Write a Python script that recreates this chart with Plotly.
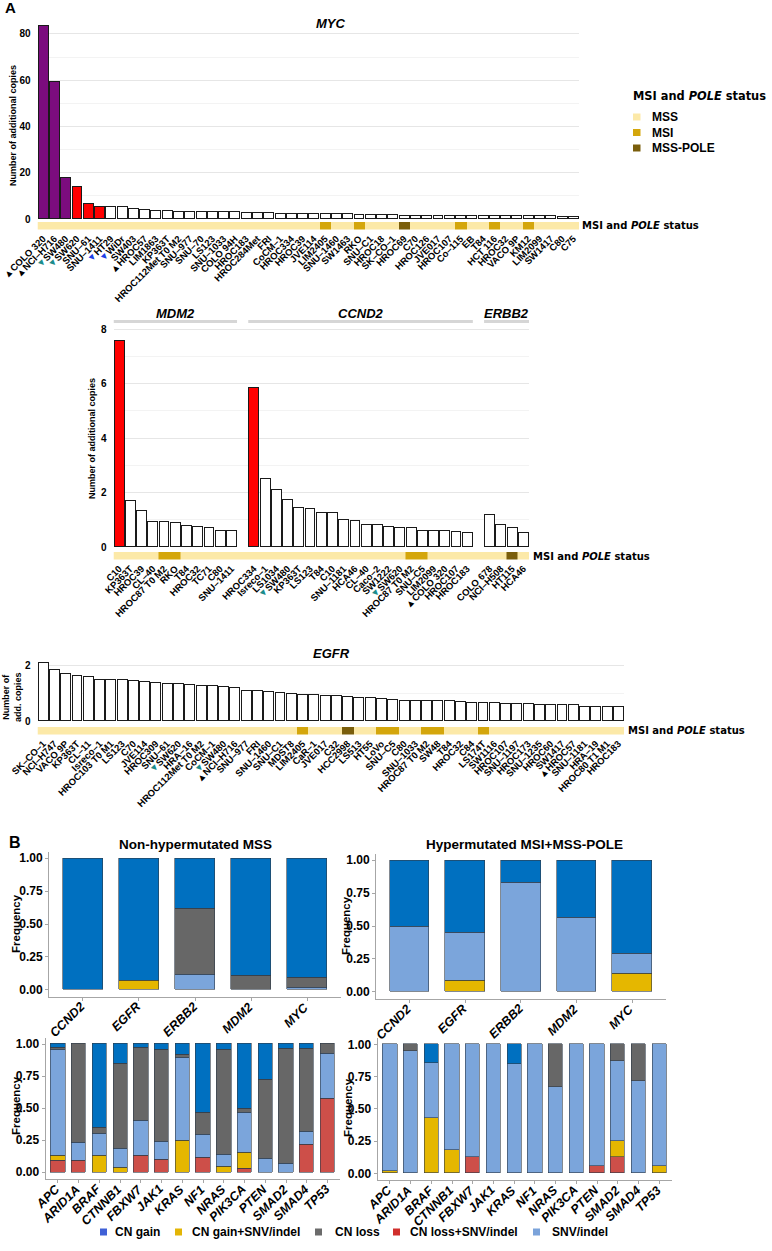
import plotly.graph_objects as go

W, H = 772, 1251

# ---------------- DATA ----------------
myc_lines = ["COLO 320", "NCI–H716", "SW480", "SW620", "SNU–61", "SNU–1411", "HT29", "WiDr", "SW403",
             "HROC57", "LIM1863", "KP363T", "HROC112Met T0 M2", "SNU–977", "SNU–70", "LS123", "SNU–1033",
             "COLO 94H", "HROC183", "HROC284Met", "FRI", "CoCM–1", "HROC334", "HROC39", "JVE114", "LIM2405",
             "SNU–1460", "SW1463", "RKO", "SNU–C1", "HROC18", "SK–CO–1", "HROC69", "C70", "HROC126", "JVE017",
             "HROC107", "Co–115", "EB", "T84", "HCT 116", "HROC32", "VACO 9P", "KM12", "LIM2099", "SW1417",
             "C80", "C75"]
myc_copies = [83.2, 59.4, 17.6, 14.0, 6.5, 5.2, 5.0, 5.0, 4.2, 3.9, 3.6, 3.6, 3.2, 3.2, 3.2, 3.0, 2.9,
              2.9, 2.7, 2.6, 2.45, 2.3, 2.3, 2.3, 2.15, 2.15, 2.0, 2.0, 1.87, 1.87, 1.6, 1.6, 1.5, 1.5, 1.45,
              1.45, 1.4, 1.4, 1.35, 1.35, 1.3, 1.3, 1.25, 1.2, 1.15, 1.1, 1.05, 1.0]
myc_level = ["high"] * 3 + ["mid"] * 3 + ["low"] * 42
myc_status = ["MSS"] * 25 + ["MSI", "MSS", "MSS", "MSI"] + ["MSS"] * 3 + ["POLE"] + ["MSS"] * 4 + \
             ["MSI", "MSS", "MSS", "MSI", "MSS", "MSS", "MSI"] + ["MSS"] * 4

mdm2_lines = ["C10", "KP363T", "HROC39", "CL–40", "HROC87 T0 M2", "RKO", "T84", "HROC32", "TC71", "C80",
              "SNU–1411"]
mdm2_copies = [7.56, 1.69, 1.34, 0.93, 0.93, 0.88, 0.77, 0.75, 0.71, 0.57, 0.57]
mdm2_level = ["mid"] + ["low"] * 10
mdm2_status = ["MSS"] * 4 + ["MSI", "MSI"] + ["MSS"] * 5

ccnd2_lines = ["HROC334", "Isreco–1", "LS1034", "SW480", "KP363T", "LS123", "T84", "C10", "SNU–1181",
               "HCA46", "CL–40", "Caco–2", "SW1222", "SW620", "HROC87 T0 M2", "SNU–C5", "LIM2099",
               "COLO 320", "HROC107", "HROC183"]
ccnd2_copies = [5.85, 2.51, 2.1, 1.74, 1.43, 1.41, 1.26, 1.26, 1.0, 0.95, 0.81, 0.81, 0.74, 0.69, 0.69,
                0.6, 0.6, 0.58, 0.55, 0.52]
ccnd2_level = ["mid"] + ["low"] * 19
ccnd2_status = ["MSS"] * 14 + ["MSI", "MSI"] + ["MSS"] * 4

erbb2_lines = ["COLO 678", "NCI–H508", "HT115", "HCA46"]
erbb2_copies = [1.19, 0.79, 0.71, 0.53]
erbb2_level = ["low"] * 4
erbb2_status = ["MSS", "MSS", "POLE", "MSS"]

egfr_lines = ["SK–CO–1", "NCI–H747", "VACO 9P", "KP363T", "CL–11", "Isreco–1", "HROC103 T0 M1", "LS123",
              "C70", "JVE114", "HROC309", "SNU–61", "SW620", "HRA–16", "HROC112Met T0 M2", "CoCM–1", "SW480",
              "NCI–H716", "SNU–977", "FRI", "SNU–1460", "SNU–C1", "MDST8", "LIM2405", "CaR–1", "JVE017",
              "C32", "HCC2998", "LS513", "HT55", "LoVo", "SNU–C5", "C80", "SNU–1033", "HROC87 T0 M2", "SW48",
              "T84", "HROC32", "C84", "LS174T", "SW1116", "HROC107", "SNU–1197", "HROC173", "SNU–1235",
              "HROC60", "SW1417", "HROC57", "SNU–1181", "HRA–19", "HROC80 T1 M1", "HROC183"]
egfr_copies = [2.1, 1.85, 1.72, 1.65, 1.6, 1.5, 1.5, 1.48, 1.45, 1.42, 1.38, 1.35, 1.33, 1.3, 1.28, 1.26,
               1.24, 1.2, 1.09, 1.08, 1.04, 1.0, 0.98, 0.94, 0.94, 0.92, 0.9, 0.88, 0.85, 0.84, 0.8, 0.77,
               0.74, 0.74, 0.74, 0.74, 0.73, 0.70, 0.67, 0.67, 0.67, 0.62, 0.62, 0.61, 0.58, 0.57, 0.57,
               0.57, 0.52, 0.52, 0.51, 0.50]
egfr_level = ["low"] * 52
egfr_status = ["MSS"] * 23 + ["MSI"] + ["MSS"] * 3 + ["POLE"] + ["MSS"] * 2 + ["MSI", "MSI"] + \
              ["MSS"] * 2 + ["MSI", "MSI"] + ["MSS"] * 3 + ["MSI"] + ["MSS"] * 12

# label markers (triangles) per cell line
tri_black = ["COLO 320", "NCI–H716", "HROC57"]
tri_teal = ["SW480", "SW620"]
tri_blue = ["HT29", "WiDr"]

amp_genes = ["CCND2", "EGFR", "ERBB2", "MDM2", "MYC"]
drv_genes = ["APC", "ARID1A", "BRAF", "CTNNB1", "FBXW7", "JAK1", "KRAS", "NF1", "NRAS", "PIK3CA", "PTEN",
             "SMAD2", "SMAD4", "TP53"]
categories = ["CN loss+SNV/indel", "CN gain+SNV/indel", "SNV/indel", "CN loss", "CN gain"]  # bottom -> top

mss_amp = {
    "CN loss+SNV/indel": [0, 0, 0, 0, 0],
    "CN gain+SNV/indel": [0, 0.07, 0, 0, 0],
    "SNV/indel": [0, 0, 0.12, 0, 0.02],
    "CN loss": [0, 0, 0.50, 0.11, 0.075],
    "CN gain": [1.0, 0.93, 0.38, 0.89, 0.905],
}
hyp_amp = {
    "CN loss+SNV/indel": [0, 0, 0, 0, 0],
    "CN gain+SNV/indel": [0, 0.09, 0, 0, 0.143],
    "SNV/indel": [0.50, 0.36, 0.83, 0.567, 0.145],
    "CN loss": [0, 0, 0, 0, 0],
    "CN gain": [0.50, 0.55, 0.17, 0.433, 0.712],
}
mss_drv = {
    "CN loss+SNV/indel": [0.091, 0.088, 0, 0, 0.132, 0.096, 0, 0.117, 0, 0.031, 0, 0, 0.218, 0.577],
    "CN gain+SNV/indel": [0.036, 0, 0.13, 0.039, 0, 0, 0.244, 0, 0.047, 0.125, 0, 0, 0, 0],
    "SNV/indel": [0.826, 0.146, 0.174, 0.145, 0.273, 0.146, 0.652, 0.179, 0.091, 0.312, 0.109, 0.07, 0.099, 0.35],
    "CN loss": [0.021, 0.766, 0.046, 0.665, 0.566, 0.711, 0.023, 0.172, 0.815, 0.031, 0.616, 0.896, 0.649, 0.073],
    "CN gain": [0.026, 0, 0.65, 0.151, 0.029, 0.047, 0.081, 0.532, 0.047, 0.501, 0.275, 0.034, 0.034, 0],
}
hyp_drv = {
    "CN loss+SNV/indel": [0, 0, 0, 0, 0.127, 0, 0, 0, 0, 0, 0.06, 0.127, 0, 0],
    "CN gain+SNV/indel": [0.016, 0, 0.429, 0.181, 0, 0, 0, 0, 0, 0, 0, 0.124, 0, 0.057],
    "SNV/indel": [0.984, 0.953, 0.429, 0.819, 0.873, 1.0, 0.848, 1.0, 0.667, 1.0, 0.94, 0.622, 0.713, 0.943],
    "CN loss": [0, 0.047, 0, 0, 0, 0, 0, 0, 0.333, 0, 0, 0.127, 0.287, 0],
    "CN gain": [0, 0, 0.142, 0, 0, 0, 0.152, 0, 0, 0, 0, 0, 0, 0],
}

# ---------------- STYLE ----------------
LEVEL_COL = {"high": "#7B0C7E", "mid": "#FF0000", "low": "#FFFFFF"}
STATUS_CODE = {"MSS": 0, "MSI": 1, "POLE": 2}
C_MSS, C_MSI, C_POLE = "#FCE9A8", "#D4A60C", "#7A5E0C"
STATUS_SCALE = [[0, C_MSS], [0.25, C_MSS], [0.25, C_MSI], [0.75, C_MSI], [0.75, C_POLE], [1, C_POLE]]
CAT_COL = {"CN gain": "#0070C0", "CN gain+SNV/indel": "#E5B700", "CN loss": "#676767",
           "CN loss+SNV/indel": "#CD4F49", "SNV/indel": "#7BA5DB"}
LEG_COL = {"CN gain": "#3F60D6", "CN gain+SNV/indel": "#E3B505", "CN loss": "#6B6B6B",
           "CN loss+SNV/indel": "#D02F2C", "SNV/indel": "#7BA3DA"}
FONT = "Liberation Sans, Arial, sans-serif"
VFONT = "DejaVu Sans, Verdana, sans-serif"


def xd(a, b):
    return [a / W, b / W]


def yd(top, bot):
    return [1 - bot / H, 1 - top / H]


def px(x):
    return x / W


def py(y):
    return 1 - y / H


def label(name):
    if name in tri_black:
        return "<span style='color:#000000'>▲</span>" + name
    if name in tri_teal:
        return "<span style='color:#1B8C8C'>▼</span>" + name
    if name in tri_blue:
        return "<span style='color:#1E3FE6'>▼</span>" + name
    return name


fig = go.Figure()
layout = {}
annotations = []
shapes = []

bold = dict(family=FONT, size=10, color="black", weight="bold")
tickb = dict(family=FONT, size=9.5, color="black", weight="bold")


def copy_panel(xi, yi, si, positions, values, levels, statuses, names, dom_x, dom_y, dom_s, rng, yrng,
               dtick, minor):
    xa, ya = f"x{xi}", f"y{yi}"
    xs, ys = f"x{si}", f"y{si}"
    fig.add_trace(go.Bar(x=positions, y=values, width=0.88,
                         marker=dict(color=[LEVEL_COL[l] for l in levels],
                                     line=dict(color="#1a1a1a", width=1)),
                         xaxis=xa, yaxis=ya, showlegend=False, hoverinfo="x+y"))
    fig.add_trace(go.Heatmap(x=positions, y=[0], z=[[STATUS_CODE[s] for s in statuses]],
                             colorscale=STATUS_SCALE, zmin=0, zmax=2, showscale=False,
                             xaxis=xs, yaxis=ys, hoverinfo="skip"))
    kx = "xaxis" if xi == "" else f"xaxis{xi}"
    ky = "yaxis" if yi == "" else f"yaxis{yi}"
    layout[kx] = dict(domain=xd(*dom_x), range=rng, anchor=ya, showticklabels=False, showgrid=False,
                      zeroline=False, fixedrange=True, automargin=False)
    layout[ky] = dict(domain=yd(*dom_y), range=yrng, anchor=xa, dtick=dtick, showgrid=True,
                      gridcolor="#E6E6E6", gridwidth=1.4, zeroline=False, tickfont=bold,
                      ticklabelstandoff=6, automargin=False, ticks="",
                      minor=dict(dtick=minor, showgrid=True, gridcolor="#F3F3F3", gridwidth=0.8))
    layout[f"xaxis{si}"] = dict(domain=xd(*dom_x), range=rng, anchor=ys, matches=xa, showgrid=False,
                                zeroline=False, tickvals=positions, ticktext=[label(n) for n in names],
                                tickangle=-45, tickfont=tickb, ticks="", ticklabelstandoff=1,
                                automargin=False)
    layout[f"yaxis{si}"] = dict(domain=yd(*dom_s), range=[-0.5, 0.5], anchor=xs, visible=False,
                                showticklabels=False, showgrid=False, zeroline=False, automargin=False)


# Row 1: MYC
copy_panel("", "", 2, list(range(len(myc_copies))), myc_copies, myc_level, myc_status, myc_lines,
           (37.5, 579), (20, 219), (222, 229.5), [-0.5, len(myc_copies) - 0.5], [0, 86], 20, 10)

# Row 2: MDM2 / CCND2 / ERBB2 on one axis with gaps
pos2 = list(range(0, 11)) + list(range(12, 32)) + list(range(33, 37))
copy_panel(3, 3, 4, pos2, mdm2_copies + ccnd2_copies + erbb2_copies,
           mdm2_level + ccnd2_level + erbb2_level, mdm2_status + ccnd2_status + erbb2_status,
           mdm2_lines + ccnd2_lines + erbb2_lines,
           (113.5, 529), (325, 547), (552, 559.5), [-0.5, 36.5], [0, 8.15], 2, 1)

# Row 3: EGFR
copy_panel(5, 5, 6, list(range(len(egfr_copies))), egfr_copies, egfr_level, egfr_status, egfr_lines,
           (37.5, 624), (659, 721), (727, 734.5), [-0.5, len(egfr_copies) - 0.5], [0, 2.25], 2, 1)

# facet strips row 2
groups = [("MDM2", -0.5, 10.5), ("CCND2", 11.5, 31.5), ("ERBB2", 32.5, 36.5)]
for g, a, b in groups:
    shapes.append(dict(type="rect", xref="x3", yref="paper", x0=a, x1=b, y0=py(323), y1=py(320),
                       fillcolor="#D6D6D6", line=dict(width=0), layer="below"))
    annotations.append(dict(text=f"<b><i>{g}</i></b>", x=(a + b) / 2, y=py(313), xref="x3", yref="paper",
                            showarrow=False, font=dict(family=FONT, size=13, color="black"),
                            xanchor="center", yanchor="middle"))


# ---------------- Panel B ----------------
def freq_panel(idx, genes, data, dom_x, dom_y, width):
    xa, ya = f"x{idx}", f"y{idx}"
    for cat in categories:
        vals = [v if v > 0 else None for v in data[cat]]
        fig.add_trace(go.Bar(x=list(range(len(genes))), y=vals, name=cat, width=width,
                             marker=dict(color=CAT_COL[cat], line=dict(color="#2E3A48", width=0.6)),
                             xaxis=xa, yaxis=ya, showlegend=False))
    layout[f"xaxis{idx}"] = dict(domain=xd(*dom_x), range=[-0.6, len(genes) - 0.4], anchor=ya,
                                 tickvals=list(range(len(genes))), showticklabels=False,
                                 showgrid=False, zeroline=False, showline=True, linecolor="#A6A6A6",
                                 linewidth=1, ticks="outside", ticklen=3, tickcolor="#A6A6A6",
                                 automargin=False)
    layout[f"yaxis{idx}"] = dict(domain=yd(*dom_y), range=[-0.05, 1.05], anchor=xa,
                                 tickvals=[0, 0.25, 0.5, 0.75, 1.0],
                                 ticktext=["0.00", "0.25", "0.50", "0.75", "1.00"],
                                 tickfont=dict(family=FONT, size=12, color="black", weight="bold"),
                                 showgrid=False, zeroline=False, showline=True, linecolor="#A6A6A6",
                                 linewidth=1, ticks="outside", ticklen=3, tickcolor="#A6A6A6",
                                 automargin=False)
    # rotated gene labels (hjust = 1, vjust = 1 style)
    for i, g in enumerate(genes):
        annotations.append(dict(text=f"<i>{g}</i>", x=i, xref=xa, y=py(dom_y[1] + 2), yref="paper",
                                xshift=6, showarrow=False, textangle=-45, xanchor="right",
                                yanchor="top", borderpad=0,
                                font=dict(family=FONT, size=12.5, color="black", weight="bold")))


freq_panel(7, amp_genes, mss_amp, (49, 341), (851.5, 996.5), 0.71)
freq_panel(8, amp_genes, hyp_amp, (376, 665.5), (853.5, 998.5), 0.71)
freq_panel(9, drv_genes, mss_drv, (45.5, 340), (1037.6, 1178.7), 0.69)
freq_panel(10, drv_genes, hyp_drv, (377.5, 671.7), (1038, 1179.8), 0.69)


# ---------------- text annotations ----------------
def ann(text, x, y, size, xanchor="center", yanchor="middle", angle=0, family=FONT, weight="bold"):
    annotations.append(dict(text=text, x=px(x), y=py(y), xref="paper", yref="paper", showarrow=False,
                            font=dict(family=family, size=size, color="black", weight=weight),
                            xanchor=xanchor, yanchor=yanchor, textangle=angle))


ann("A", 3, 7, 15, xanchor="left")
ann("B", 7, 842, 16, xanchor="left")
ann("<i>MYC</i>", 331, 23, 13)
ann("<i>EGFR</i>", 331, 653, 13)
ann("Number of additional copies", 13, 126, 9, angle=-90)
ann("Number of additional copies", 92, 439, 9, angle=-90)
ann("Number of<br>add. copies", 12, 697, 9, angle=-90)
ann("MSI and <i>POLE</i> status", 580, 225.8, 10, xanchor="left", family=VFONT)
ann("MSI and <i>POLE</i> status", 531, 556, 10, xanchor="left", family=VFONT)
ann("MSI and <i>POLE</i> status", 626, 730.5, 10, xanchor="left", family=VFONT)
ann("Non-hypermutated MSS", 195, 845, 13.5)
ann("Hypermutated MSI+MSS-POLE", 524, 845, 13.5)
ann("Frequency", 16, 924, 11.5, angle=-90)
ann("Frequency", 346, 926, 11.5, angle=-90)
ann("Frequency", 16, 1106, 11.5, angle=-90)
ann("Frequency", 348, 1108, 11.5, angle=-90)

# MSI / POLE legend
ann("MSI and <i>POLE</i> status", 631, 95.5, 11.4, xanchor="left", family=VFONT)
for i, (lab, col) in enumerate([("MSS", C_MSS), ("MSI", C_MSI), ("MSS-POLE", C_POLE)]):
    yc = 117 + 15.5 * i
    shapes.append(dict(type="rect", xref="paper", yref="paper", x0=px(633), x1=px(640.5),
                       y0=py(yc + 3.5), y1=py(yc - 3.5), fillcolor=col, line=dict(width=0)))
    ann(lab, 650, yc, 12, xanchor="left")

# alteration legend
leg_items = [("CN gain", 100, 113), ("CN gain+SNV/indel", 175, 190), ("CN loss", 315, 333),
             ("CN loss+SNV/indel", 393, 408), ("SNV/indel", 533, 550)]
for lab, sx, tx in leg_items:
    shapes.append(dict(type="rect", xref="paper", yref="paper", x0=px(sx), x1=px(sx + 7),
                       y0=py(1235.5), y1=py(1228.5), fillcolor=LEG_COL[lab], line=dict(width=0)))
    ann(lab, tx, 1232, 12, xanchor="left")

fig.update_layout(template="none", width=W, height=H, margin=dict(l=0, r=0, t=0, b=0, pad=0),
                  paper_bgcolor="white", plot_bgcolor="rgba(0,0,0,0)", barmode="stack", showlegend=False,
                  bargap=0, annotations=annotations, shapes=shapes,
                  font=dict(family=FONT, color="black"), **layout)

fig.write_html("out.html")
